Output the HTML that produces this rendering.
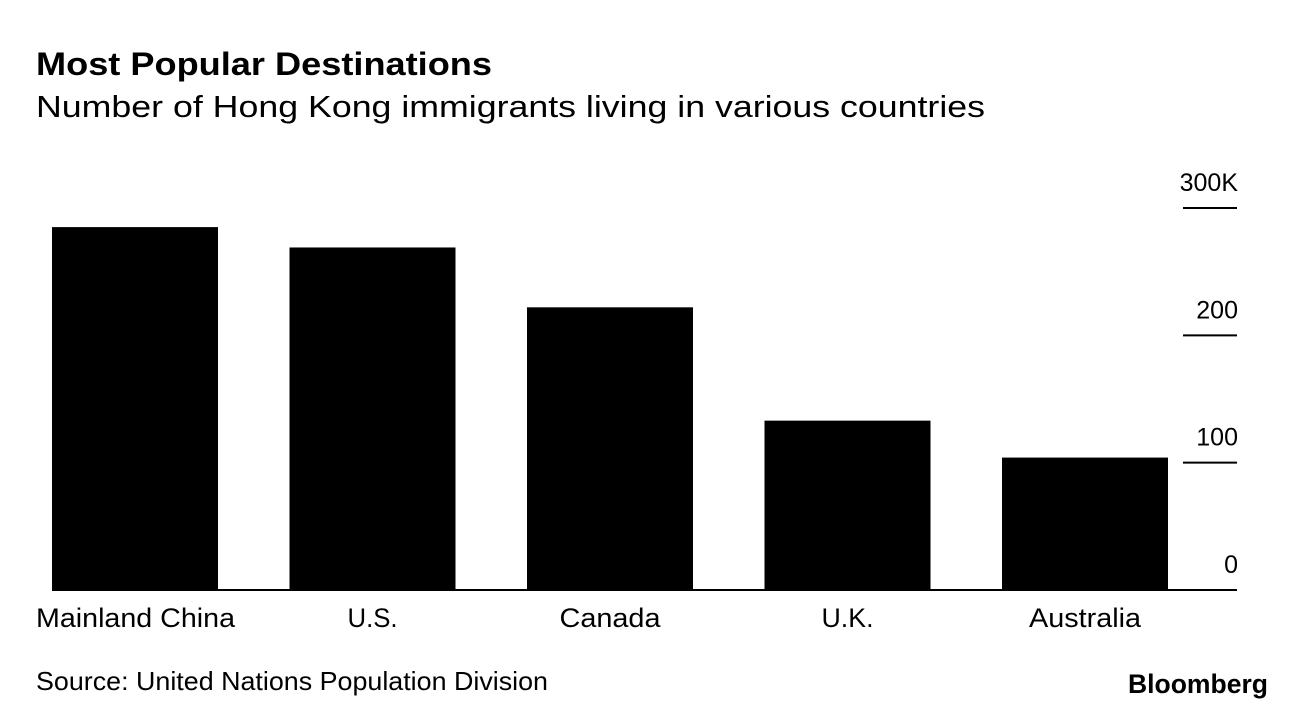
<!DOCTYPE html>
<html><head><meta charset="utf-8">
<style>
html,body{margin:0;padding:0;background:#fff;}
body{width:1296px;height:710px;overflow:hidden;font-family:"Liberation Sans",sans-serif;}
</style></head>
<body>
<svg id="chart" width="1296" height="710" xmlns="http://www.w3.org/2000/svg" font-family="Liberation Sans, sans-serif">
<text x="36" y="75" font-size="32" font-weight="bold" textLength="456" lengthAdjust="spacingAndGlyphs">Most Popular Destinations</text>
<text x="36" y="117" font-size="31" textLength="949" lengthAdjust="spacingAndGlyphs">Number of Hong Kong immigrants living in various countries</text>
<g id="bars"></g>
<g id="yaxis"></g>
<line x1="52" y1="590" x2="1237" y2="590" stroke="#000" stroke-width="2"/>
<text x="36" y="690" font-size="26" textLength="512" lengthAdjust="spacingAndGlyphs">Source: United Nations Population Division</text>
<text x="1128" y="693" font-size="27" font-weight="bold" textLength="140" lengthAdjust="spacingAndGlyphs">Bloomberg</text>
</svg>
<script>
const categories = ["Mainland China","U.S.","Canada","U.K.","Australia"];
const values = [285,269,222,133,104];
const tickValues = [0,100,200,300];
const tickLabels = ["0","100","200","300K"];
const labelWidths = [199,50,101,52,112];

const NS="http://www.w3.org/2000/svg";
const y0=590, yTop=208, vMax=300;
function y(v){return y0-(v/vMax)*(y0-yTop);}
const plotL=52, step=237.5, barW=166;
function x(i){return plotL+i*step;}
const bars=document.getElementById('bars');
categories.forEach((c,i)=>{
  const r=document.createElementNS(NS,'rect');
  r.setAttribute('x',x(i));r.setAttribute('y',y(values[i]));
  r.setAttribute('width',barW);r.setAttribute('height',y0-y(values[i]));
  r.setAttribute('fill','#000');
  
  
  bars.appendChild(r);
  const t=document.createElementNS(NS,'text');
  const w=labelWidths[i];
  t.setAttribute('x',i===0?36:x(i)+barW/2-w/2);t.setAttribute('y',627);
  t.setAttribute('font-size','27');
  t.setAttribute('textLength',w);t.setAttribute('lengthAdjust','spacingAndGlyphs');
  t.textContent=c;
  
  
  bars.appendChild(t);
});
const ya=document.getElementById('yaxis');
tickValues.forEach((v,i)=>{
  if(v>0){
    const l=document.createElementNS(NS,'line');
    l.setAttribute('x1',1183);l.setAttribute('x2',1237);
    l.setAttribute('y1',y(v));l.setAttribute('y2',y(v));
    l.setAttribute('stroke','#000');l.setAttribute('stroke-width','2');
    
    
    ya.appendChild(l);
  }
  const t=document.createElementNS(NS,'text');
  t.setAttribute('x',1238);t.setAttribute('y',y(v)-17);
  t.setAttribute('text-anchor','end');t.setAttribute('font-size','25');
  t.textContent=tickLabels[i];
  
  
  ya.appendChild(t);
});
</script>
</body></html>
